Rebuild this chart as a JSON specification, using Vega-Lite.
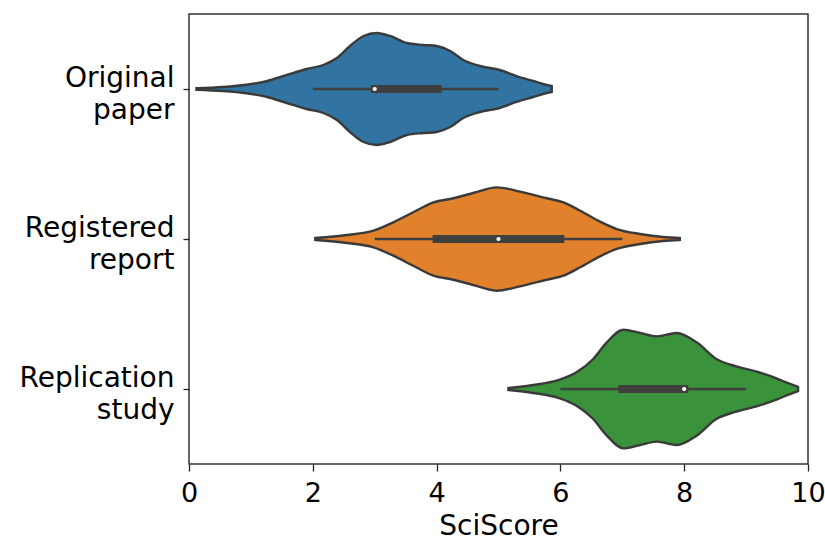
{
  "$schema": "https://vega.github.io/schema/vega-lite/v6.json",
  "width": 619,
  "height": 450,
  "autosize": {"type": "none"},
  "padding": {"left": 189, "top": 14, "right": 17, "bottom": 76},
  "background": "white",
  "config": {
    "view": {"stroke": "#333333", "strokeWidth": 1.5},
    "font": "DejaVu Sans"
  },
  "datasets": {
    "violin": [
      {"group": "Original paper", "score": 0.12, "density": 0.01},
      {"group": "Original paper", "score": 0.55, "density": 0.027},
      {"group": "Original paper", "score": 0.93, "density": 0.057},
      {"group": "Original paper", "score": 1.25, "density": 0.103},
      {"group": "Original paper", "score": 1.58, "density": 0.187},
      {"group": "Original paper", "score": 1.9, "density": 0.267},
      {"group": "Original paper", "score": 2.17, "density": 0.32},
      {"group": "Original paper", "score": 2.39, "density": 0.413},
      {"group": "Original paper", "score": 2.6, "density": 0.573},
      {"group": "Original paper", "score": 2.82, "density": 0.707},
      {"group": "Original paper", "score": 3.03, "density": 0.747},
      {"group": "Original paper", "score": 3.25, "density": 0.707},
      {"group": "Original paper", "score": 3.52, "density": 0.613},
      {"group": "Original paper", "score": 3.79, "density": 0.587},
      {"group": "Original paper", "score": 4.0, "density": 0.573},
      {"group": "Original paper", "score": 4.22, "density": 0.507},
      {"group": "Original paper", "score": 4.43, "density": 0.387},
      {"group": "Original paper", "score": 4.7, "density": 0.307},
      {"group": "Original paper", "score": 5.02, "density": 0.253},
      {"group": "Original paper", "score": 5.29, "density": 0.173},
      {"group": "Original paper", "score": 5.56, "density": 0.107},
      {"group": "Original paper", "score": 5.78, "density": 0.053},
      {"group": "Original paper", "score": 5.86, "density": 0.04},
      {"group": "Registered report", "score": 2.04, "density": 0.013},
      {"group": "Registered report", "score": 2.55, "density": 0.053},
      {"group": "Registered report", "score": 2.98, "density": 0.111},
      {"group": "Registered report", "score": 3.3, "density": 0.222},
      {"group": "Registered report", "score": 3.62, "density": 0.356},
      {"group": "Registered report", "score": 3.95, "density": 0.489},
      {"group": "Registered report", "score": 4.27, "density": 0.543},
      {"group": "Registered report", "score": 4.59, "density": 0.613},
      {"group": "Registered report", "score": 4.97, "density": 0.689},
      {"group": "Registered report", "score": 5.35, "density": 0.631},
      {"group": "Registered report", "score": 5.78, "density": 0.543},
      {"group": "Registered report", "score": 6.05, "density": 0.489},
      {"group": "Registered report", "score": 6.32, "density": 0.377},
      {"group": "Registered report", "score": 6.64, "density": 0.231},
      {"group": "Registered report", "score": 6.91, "density": 0.133},
      {"group": "Registered report", "score": 7.29, "density": 0.067},
      {"group": "Registered report", "score": 7.66, "density": 0.027},
      {"group": "Registered report", "score": 7.93, "density": 0.013},
      {"group": "Replication study", "score": 5.16, "density": 0.013},
      {"group": "Replication study", "score": 5.56, "density": 0.053},
      {"group": "Replication study", "score": 5.99, "density": 0.124},
      {"group": "Replication study", "score": 6.26, "density": 0.222},
      {"group": "Replication study", "score": 6.53, "density": 0.4},
      {"group": "Replication study", "score": 6.75, "density": 0.622},
      {"group": "Replication study", "score": 7.02, "density": 0.791},
      {"group": "Replication study", "score": 7.29, "density": 0.747},
      {"group": "Replication study", "score": 7.56, "density": 0.702},
      {"group": "Replication study", "score": 7.88, "density": 0.747},
      {"group": "Replication study", "score": 8.2, "density": 0.622},
      {"group": "Replication study", "score": 8.52, "density": 0.4},
      {"group": "Replication study", "score": 8.84, "density": 0.302},
      {"group": "Replication study", "score": 9.17, "density": 0.231},
      {"group": "Replication study", "score": 9.49, "density": 0.142},
      {"group": "Replication study", "score": 9.71, "density": 0.067},
      {"group": "Replication study", "score": 9.84, "density": 0.027}
    ],
    "stats": [
      {"group": "Original paper", "whislo": 2, "q1": 3, "med": 3, "q3": 4.02, "whishi": 5},
      {"group": "Registered report", "whislo": 3, "q1": 4, "med": 5, "q3": 6, "whishi": 7},
      {"group": "Replication study", "whislo": 6, "q1": 7, "med": 8, "q3": 8, "whishi": 9}
    ]
  },
  "resolve": {"scale": {"y": "independent"}},
  "layer": [
    {
      "data": {"name": "violin"},
      "transform": [{"filter": "datum.group === 'Original paper'"}],
      "mark": {"type": "area", "interpolate": "monotone", "stroke": "#3a3a3a", "strokeWidth": 2.4, "fillOpacity": 1},
      "encoding": {
        "x": {"field": "score", "type": "quantitative", "scale": {"domain": [0, 10], "nice": false, "zero": false},
              "axis": {"values": [0, 2, 4, 6, 8, 10], "format": "d", "grid": false, "domain": false, "labelFlush": false, "labelBound": false, "labelOverlap": false,
                       "labelFontSize": 27, "labelColor": "#000000", "tickSize": 7, "tickColor": "#222222", "tickWidth": 1.3, "labelPadding": 9,
                       "title": "SciScore", "titleFontSize": 28, "titleFontWeight": "normal", "titleColor": "#000000",
                       "titleY": 70, "titleBaseline": "alphabetic"}},
        "y": {"field": "density", "type": "quantitative", "stack": "center", "scale": {"domain": [-2.1265, 0.8735], "nice": false, "zero": false}, "axis": null},
        "color": {"field": "group", "type": "nominal", "scale": {"domain": ["Original paper", "Registered report", "Replication study"], "range": ["#3274a1", "#e1812c", "#3a923a"]}, "legend": null}
      }
    },
    {
      "data": {"name": "violin"},
      "transform": [{"filter": "datum.group === 'Registered report'"}],
      "mark": {"type": "area", "interpolate": "monotone", "stroke": "#3a3a3a", "strokeWidth": 2.4, "fillOpacity": 1},
      "encoding": {
        "x": {"field": "score", "type": "quantitative", "scale": {"domain": [0, 10], "nice": false, "zero": false}},
        "y": {"field": "density", "type": "quantitative", "stack": "center", "scale": {"domain": [-1.1555, 1.8445], "nice": false, "zero": false}, "axis": null},
        "color": {"field": "group", "type": "nominal", "legend": null}
      }
    },
    {
      "data": {"name": "violin"},
      "transform": [{"filter": "datum.group === 'Replication study'"}],
      "mark": {"type": "area", "interpolate": "monotone", "stroke": "#3a3a3a", "strokeWidth": 2.4, "fillOpacity": 1},
      "encoding": {
        "x": {"field": "score", "type": "quantitative", "scale": {"domain": [0, 10], "nice": false, "zero": false}},
        "y": {"field": "density", "type": "quantitative", "stack": "center", "scale": {"domain": [-0.1045, 2.8955], "nice": false, "zero": false}, "axis": null},
        "color": {"field": "group", "type": "nominal", "legend": null}
      }
    },
    {
      "data": {"name": "stats"},
      "mark": {"type": "rule", "color": "#3f3f3f", "strokeWidth": 2.4},
      "encoding": {
        "x": {"field": "whislo", "type": "quantitative", "scale": {"domain": [0, 10], "nice": false, "zero": false}},
        "x2": {"field": "whishi"},
        "y": {"field": "group", "type": "nominal", "sort": ["Original paper", "Registered report", "Replication study"],
              "scale": {"type": "point", "padding": 0.5},
              "axis": {"title": null, "domain": false, "labelExpr": "split(datum.label, ' ')", "labelFontSize": 28, "labelLineHeight": 32,
                       "labelColor": "#000000", "labelPadding": 9, "labelOffset": -11, "labelAlign": "right", "labelBaseline": "middle",
                       "tickSize": 6, "tickColor": "#222222", "tickWidth": 1.3, "grid": false}}
      }
    },
    {
      "data": {"name": "stats"},
      "mark": {"type": "rule", "color": "#3f3f3f", "strokeWidth": 8, "strokeCap": "square"},
      "encoding": {
        "x": {"field": "q1", "type": "quantitative", "scale": {"domain": [0, 10], "nice": false, "zero": false}},
        "x2": {"field": "q3"},
        "y": {"field": "group", "type": "nominal", "sort": ["Original paper", "Registered report", "Replication study"],
              "scale": {"type": "point", "padding": 0.5}, "axis": null}
      }
    },
    {
      "data": {"name": "stats"},
      "mark": {"type": "point", "shape": "circle", "filled": true, "color": "#ffffff", "opacity": 1, "size": 18},
      "encoding": {
        "x": {"field": "med", "type": "quantitative", "scale": {"domain": [0, 10], "nice": false, "zero": false}},
        "y": {"field": "group", "type": "nominal", "sort": ["Original paper", "Registered report", "Replication study"],
              "scale": {"type": "point", "padding": 0.5}, "axis": null}
      }
    }
  ]
}
